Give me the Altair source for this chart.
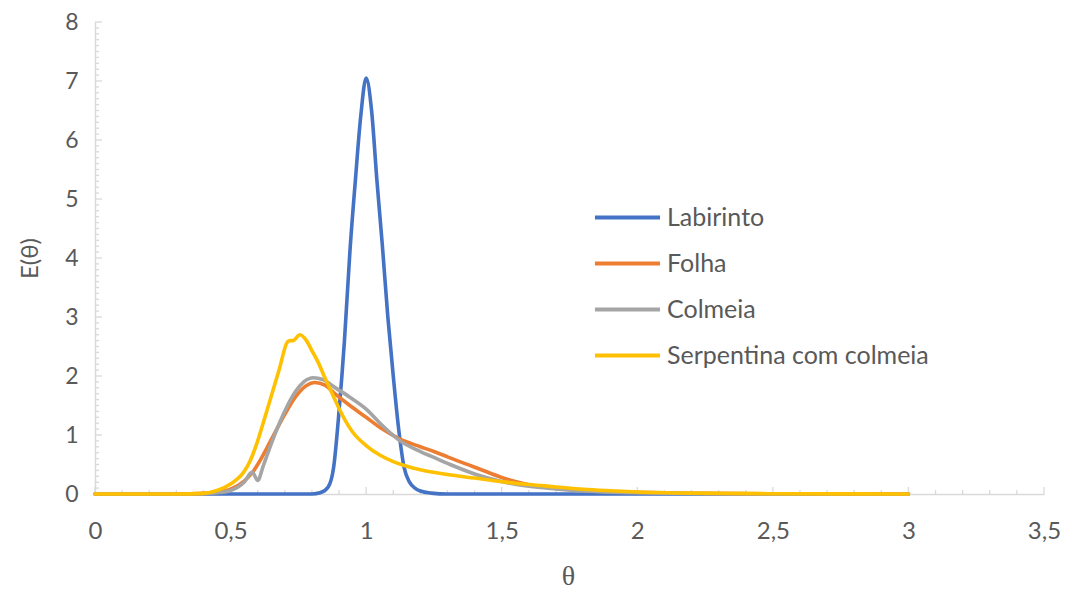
import altair as alt
import pandas as pd

SERIES = ["Labirinto", "Folha", "Colmeia", "Serpentina com colmeia"]
COLORS = ["#4472C4", "#ED7D31", "#A5A5A5", "#FFC000"]

lab_x = [0, 0.5, 0.8, 0.83, 0.86, 0.88, 0.90, 0.92, 0.94, 0.96, 0.98, 1.00, 1.02, 1.04, 1.06, 1.08, 1.10, 1.12, 1.14, 1.16, 1.18, 1.20, 1.24, 1.3, 1.5, 2.0, 2.5, 3.0]
lab_y = [0, 0, 0, 0.02, 0.12, 0.45, 1.4, 2.6, 4.1, 5.3, 6.4, 7.05, 6.5, 5.3, 4.2, 3.0, 2.0, 1.1, 0.45, 0.2, 0.1, 0.05, 0.015, 0, 0, 0, 0, 0]

fol_x = [0, 0.3, 0.4, 0.45, 0.5, 0.55, 0.58, 0.6, 0.65, 0.7, 0.74, 0.78, 0.81, 0.85, 0.88, 0.94, 1.0, 1.06, 1.125, 1.2, 1.25, 1.3, 1.35, 1.42, 1.5, 1.55, 1.6, 1.7, 1.8, 1.9, 2.0, 2.2, 2.5, 3.0]
fol_y = [0, 0, 0.01, 0.03, 0.08, 0.22, 0.36, 0.5, 0.92, 1.35, 1.65, 1.84, 1.89, 1.84, 1.72, 1.5, 1.3, 1.1, 0.93, 0.8, 0.72, 0.63, 0.54, 0.42, 0.28, 0.21, 0.155, 0.1, 0.065, 0.042, 0.028, 0.012, 0.004, 0]

col_x = [0, 0.3, 0.4, 0.45, 0.5, 0.55, 0.58, 0.6, 0.62, 0.65, 0.68, 0.71, 0.74, 0.77, 0.805, 0.84, 0.88, 0.94, 1.0, 1.06, 1.125, 1.2, 1.25, 1.31, 1.4, 1.5, 1.6, 1.7, 1.8, 1.9, 2.0, 2.2, 2.5, 3.0]
col_y = [0, 0, 0.005, 0.02, 0.06, 0.2, 0.37, 0.23, 0.47, 0.85, 1.2, 1.5, 1.74, 1.9, 1.97, 1.94, 1.82, 1.64, 1.44, 1.16, 0.9, 0.72, 0.62, 0.5, 0.34, 0.21, 0.13, 0.085, 0.05, 0.03, 0.02, 0.008, 0.002, 0]

ser_x = [0, 0.3, 0.4, 0.45, 0.5, 0.55, 0.572, 0.6, 0.62, 0.645, 0.68, 0.71, 0.72, 0.73, 0.756, 0.78, 0.8, 0.82, 0.85, 0.88, 0.9, 0.95, 1.0, 1.05, 1.1, 1.15, 1.2, 1.3, 1.4, 1.5, 1.6, 1.7, 1.8, 1.9, 2.0, 2.2, 2.5, 3.0]
ser_y = [0, 0, 0.01, 0.06, 0.17, 0.38, 0.56, 0.9, 1.2, 1.58, 2.12, 2.58, 2.6, 2.6, 2.7, 2.6, 2.43, 2.26, 1.95, 1.65, 1.45, 1.05, 0.82, 0.66, 0.55, 0.47, 0.41, 0.33, 0.27, 0.21, 0.16, 0.12, 0.08, 0.055, 0.035, 0.015, 0.005, 0]

X_LABELS = [0, 0.5, 1, 1.5, 2, 2.5, 3, 3.5]
Y_LABELS = [0, 1, 2, 3, 4, 5, 6, 7, 8]
X_MINOR = [round(i * 0.1, 1) for i in range(36)]
Y_MINOR = [round(i * 0.1, 1) for i in range(81)]

rows = []
for i, (xs, ys) in enumerate([(lab_x, lab_y), (fol_x, fol_y), (col_x, col_y), (ser_x, ser_y)]):
    for x, y in zip(xs, ys):
        rows.append({"serie": SERIES[i], "ordem": i, "theta": x, "E": y})
df = pd.DataFrame(rows)

W, H = 949, 472
FONT = "Lato"
GREY = "#595959"
AXC = "#d9d9d9"

xscale = alt.Scale(domain=[0, 3.5], nice=False, zero=False)
yscale = alt.Scale(domain=[0, 8], nice=False)

lines = alt.Chart(df).mark_line(strokeWidth=3.6, interpolate="monotone", strokeCap="round", strokeJoin="round").encode(
    x=alt.X("theta:Q", scale=xscale,
            axis=alt.Axis(values=X_LABELS, labelExpr="replace(toString(datum.value), '.', ',')",
                          title="θ", titleFont="Liberation Serif", titleFontSize=28, titleFontWeight="normal",
                          titleX=473, titleY=82, titleBaseline="middle", labelPadding=25,
                          labelFlush=False)),
    y=alt.Y("E:Q", scale=yscale,
            axis=alt.Axis(values=Y_LABELS, labelExpr="toString(datum.value)", title="E(θ)",
                          titleFont=FONT, titleFontSize=24, labelFontSize=23,
                          titleFontWeight="normal", titleAngle=-90, titleX=-65, titleY=236,
                          titleBaseline="middle", titleAlign="center", labelPadding=17)),
    color=alt.Color("serie:N", scale=alt.Scale(domain=SERIES, range=COLORS),
                    legend=alt.Legend(title=None, orient="none", legendX=520, legendY=183,
                                      symbolType="M-3.1,0H3.1", symbolSize=441, symbolStrokeWidth=4,
                                      labelFont=FONT, labelFontSize=25, labelColor=GREY,
                                      labelOffset=27, rowPadding=20, labelLimit=400)),
    order=alt.Order("ordem:Q"),
    detail="serie:N",
)

xmaj = pd.DataFrame({"v": X_LABELS})
xmin = pd.DataFrame({"v": [v for v in X_MINOR if round(v * 2, 6) != int(round(v * 2, 6))]})
ymaj = pd.DataFrame({"v": Y_LABELS})
ymin = pd.DataFrame({"v": [v for v in Y_MINOR if abs(v - round(v)) > 1e-6]})

xt1 = alt.Chart(xmaj).mark_rule(color=AXC, strokeWidth=1.3).encode(
    x=alt.X("v:Q", scale=xscale), y=alt.value(H), y2=alt.value(H - 7))
xt2 = alt.Chart(xmin).mark_rule(color=AXC, strokeWidth=1.3).encode(
    x=alt.X("v:Q", scale=xscale), y=alt.value(H), y2=alt.value(H - 4))
yt1 = alt.Chart(ymaj).mark_rule(color=AXC, strokeWidth=1.3).encode(
    y=alt.Y("v:Q", scale=yscale), x=alt.value(0), x2=alt.value(7))
yt2 = alt.Chart(ymin).mark_rule(color=AXC, strokeWidth=1.3).encode(
    y=alt.Y("v:Q", scale=yscale), x=alt.value(0), x2=alt.value(4))

chart = alt.layer(xt1, xt2, yt1, yt2, lines).properties(
    width=W, height=H,
    autosize=alt.AutoSizeParams(type="none"),
    padding={"left": 87, "top": 14, "right": 18, "bottom": 96},
    background="white",
).configure_view(stroke=None).configure_axis(
    grid=False, ticks=False, domainColor=AXC, domainWidth=1.5,
    labelFont=FONT, labelFontSize=24, labelColor=GREY, titleColor=GREY,
)

chart.save("out.html", embed_options={"renderer": "svg", "actions": False})
